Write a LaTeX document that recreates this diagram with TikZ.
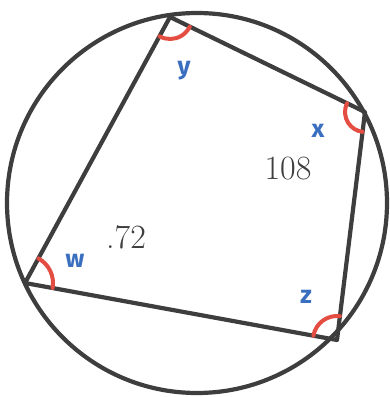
\documentclass[tikz,border=0pt]{standalone}
\usepackage{fontspec}
\setsansfont{Fira Sans}
\usetikzlibrary{angles}
\definecolor{inkgray}{RGB}{62,62,62}
\definecolor{markred}{RGB}{228,78,66}
\definecolor{labelblue}{RGB}{58,110,190}

\begin{document}
\begin{tikzpicture}[x=1pt,y=1pt,
  edge/.style={draw=inkgray,line width=4.2pt,line join=round},
  anglemark/.style={draw=markred,line width=4pt,line cap=round},
  vlabel/.style={text=labelblue,font=\sffamily\bfseries\fontsize{25}{25}\selectfont},
  handnum/.style={text=inkgray,font=\fontsize{34}{34}\selectfont}]
\useasboundingbox (0,0) rectangle (390,397);
% circle and the four points on it
\coordinate (O) at (197,194);
\coordinate (Y) at (170,380);
\coordinate (X) at (365,285);
\coordinate (Z) at (337,57);
\coordinate (W) at (25,114);
\draw[edge] (O) circle (190);
\draw[edge] (Y) -- (X) -- (Z) -- (W) -- cycle;
% red marks at the corners
\pic[anglemark,angle radius=22] {angle=W--Y--X};
\pic[anglemark,angle radius=20] {angle=Y--X--Z};
\pic[anglemark,angle radius=24] {angle=X--Z--W};
\pic[anglemark,angle radius=28] {angle=Z--W--Y};
% labels
\node[vlabel] (ly) at (184,326) {y};
\node[vlabel] (lx) at (318,266) {x};
\node[vlabel] (lz) at (306,100) {z};
\node[vlabel] (lw) at (75,136) {w};
\node[handnum] (n108) at (288,228) {108};
\node[handnum] (n72) at (126,160) {.72};
\end{tikzpicture}
\end{document}
